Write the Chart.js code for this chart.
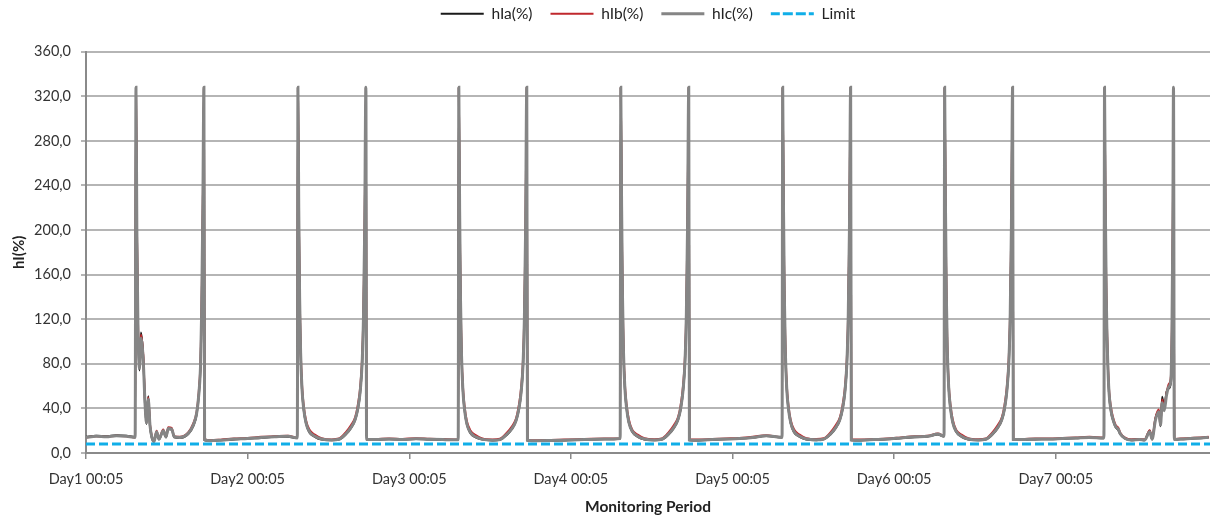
<!DOCTYPE html>
<html>
<head>
<meta charset="utf-8">
<script src="https://cdn.jsdelivr.net/npm/chart.js@4/dist/chart.umd.min.js"></script>
<style>
  html, body { margin: 0; padding: 0; background: #fff; }
  #wrap { width: 1210px; height: 518px; }
</style>
</head>
<body>
<div id="wrap"><canvas id="hChart" width="1210" height="518"></canvas></div>
<script>
// hours since Day1 00:05, one row per day
const hours = [
  0, 1.5, 3, 4.5, 6, 7.3, 7.42, 7.55, 7.7, 7.94, 8.16, 8.5, 8.76, 8.98, 9.25, 9.5, 9.75, 10.09, 10.49, 10.83, 11.47, 11.87, 12.22, 12.72, 13.11, 13.95, 15.18, 15.93, 16.43, 16.77, 17.02, 17.17, 17.35, 17.51, 17.61, 18.5, 20, 22, 24, 26, 28, 30,
  31.38, 31.47, 31.59, 31.72, 31.87, 32.07, 32.32, 32.67, 33.17, 33.97, 34.97, 36.47, 37.56, 38.56, 39.36, 39.96, 40.36, 40.71, 41.01, 41.21, 41.38, 41.56, 41.66, 43, 45, 47, 49, 51, 53,
  55.27, 55.36, 55.48, 55.61, 55.76, 55.96, 56.21, 56.56, 57.06, 57.86, 58.86, 60.36, 61.45, 62.45, 63.25, 63.85, 64.25, 64.6, 64.9, 65.1, 65.27, 65.45, 65.55, 67, 69, 71, 73, 75, 77,
  79.32, 79.41, 79.53, 79.66, 79.81, 80.01, 80.26, 80.61, 81.11, 81.91, 82.91, 84.41, 85.5, 86.5, 87.3, 87.9, 88.3, 88.65, 88.95, 89.15, 89.32, 89.5, 89.6, 91, 93, 95, 97, 99, 101,
  103.36, 103.45, 103.57, 103.7, 103.85, 104.05, 104.3, 104.65, 105.15, 105.95, 106.95, 108.45, 109.54, 110.54, 111.34, 111.94, 112.34, 112.69, 112.99, 113.19, 113.36, 113.54, 113.64, 115, 117, 119, 121, 123, 125, 126.5,
  127.41, 127.5, 127.62, 127.75, 127.9, 128.1, 128.35, 128.7, 129.2, 130.0, 131.0, 132.5, 133.59, 134.59, 135.39, 135.99, 136.39, 136.74, 137.04, 137.24, 137.41, 137.59, 137.69, 139, 141, 143, 145, 147, 149,
  151.15, 151.24, 151.36, 151.5, 151.7, 151.9, 152.2, 152.5, 152.9, 153.3, 153.55, 154.3, 155.2, 156.4, 157.2, 157.95, 158.3, 158.8, 159.3, 159.55, 159.8, 160.1, 160.45, 160.8, 161.1, 161.25, 161.38, 161.48, 161.6, 162.5, 164, 165.5, 166.7
];

const hIa = [
  14.5, 15.5, 15, 16, 15.5, 14.5, 328, 205, 118, 74, 108, 86, 44, 26, 51, 24, 14, 10.5, 18, 12, 19.5, 14, 21.5, 21, 14, 13.5, 17, 24, 34.5, 53, 80, 124, 218, 328, 11.5, 11, 11.5, 12, 13, 13.5, 14.5, 14.5,
  13.5, 328, 222, 138, 88, 57, 39, 26.5, 18.5, 14.5, 12, 11.5, 12, 16.5, 22.5, 29.5, 39, 54, 80, 122, 196, 328, 11.8, 11.8, 12.3, 12, 12.5, 12, 11.8,
  11.6, 328, 216, 136, 87, 56, 38.5, 25.5, 18, 14, 12, 11.3, 11.8, 16, 21.5, 28.5, 38, 53, 78, 120, 195, 328, 11.3, 10.8, 11, 11.3, 11.6, 12, 12.3,
  12.8, 328, 220, 140, 90, 58, 40, 27, 19, 14.5, 12.2, 11.5, 12, 16.5, 22.5, 29.5, 39, 55, 81, 124, 198, 328, 11.5, 11.3, 11.8, 12.3, 12.8, 13.8, 15.2,
  13.8, 328, 218, 138, 89, 57, 39.5, 26.5, 18.5, 14.5, 12.2, 11.5, 12.2, 16.5, 22.5, 29.5, 39, 54, 80, 123, 197, 328, 11.5, 11.3, 11.8, 12.3, 13.2, 14.2, 14.8, 16.5,
  14.8, 328, 220, 140, 89, 58, 40, 27, 19, 14.5, 12.2, 11.5, 12, 16.5, 22.5, 29.5, 39, 55, 81, 124, 199, 328, 12, 11.8, 12.2, 12.3, 12.8, 13.3, 13.8,
  13.3, 328, 218, 138, 84, 54, 37, 29.5, 23, 20.5, 17, 12.8, 11.5, 11.8, 11.5, 20, 12, 31, 38, 24, 50.5, 40, 55, 58, 64, 106, 195, 328, 11.8, 12.3, 12.8, 13.3, 13.8
];

const hIb = [
  14, 15, 14.5, 15.5, 15, 14, 328, 210, 125, 80, 106, 88, 47, 29, 50, 26, 16, 11, 20, 13, 21, 15, 23, 22.5, 15, 14.5, 18.5, 26.5, 37, 57, 85, 132, 226, 328, 12.5, 11.5, 12, 13, 13.5, 14.5, 15, 15.5,
  13.8, 328, 226, 146, 95, 62, 43, 29.5, 21, 16.5, 13.3, 12.2, 13, 18.5, 25, 32, 43, 59, 87, 132, 208, 328, 12.5, 12.5, 13, 12.5, 13.3, 12.8, 12.5,
  12, 328, 224, 144, 93, 61, 42, 28.5, 20.5, 16, 13, 12.2, 12.8, 18, 24, 31, 42, 58, 85, 130, 206, 328, 12, 11.5, 11.7, 12, 12.3, 12.7, 13,
  13.3, 328, 228, 148, 97, 63, 44, 30, 21, 16.5, 13.3, 12.3, 13, 18.5, 25, 32, 43, 60, 88, 133, 210, 328, 12.2, 12, 12.5, 13, 13.5, 14.5, 16,
  14.3, 328, 226, 146, 96, 62, 43, 29.5, 21, 16.5, 13.3, 12.5, 13.2, 18.5, 25, 32, 43, 59, 87, 132, 208, 328, 12.2, 12, 12.5, 13, 14, 15, 15.5, 17.5,
  15.3, 328, 228, 148, 96, 63, 44, 30, 21, 16.5, 13.3, 12.4, 13, 18.5, 25, 32, 43, 60, 88, 133, 210, 328, 12.7, 12.5, 13, 13, 13.5, 14, 14.5,
  13.8, 328, 226, 146, 90, 58, 41, 32, 25, 22.5, 18.5, 13.8, 12.3, 12.6, 12.3, 20.5, 13.2, 31.5, 39, 27, 48, 41, 54, 62, 69, 116, 208, 328, 12.6, 13, 13.5, 14, 14.5
];

const hIc = [
  14, 15, 14.5, 15.5, 15, 14, 328, 200, 120, 76, 103, 83, 45, 27, 48, 25, 15, 10, 19, 12.5, 20, 14.6, 22, 21.5, 14.6, 14, 17.6, 25, 35.6, 54, 81, 126, 220, 328, 12, 11, 11.5, 12.5, 13, 14, 14.5, 15,
  13.5, 328, 220, 140, 90, 58, 40, 27, 19, 15, 12.5, 11.7, 12.3, 17, 23, 30, 40, 55, 82, 125, 200, 328, 12, 12, 12.5, 12, 12.8, 12.3, 12,
  11.8, 328, 218, 138, 88, 57, 39, 26, 18.5, 14.5, 12.2, 11.5, 12, 16.5, 22, 29, 39, 54, 80, 122, 198, 328, 11.5, 11, 11.2, 11.5, 11.8, 12.2, 12.5,
  13, 328, 222, 142, 91, 59, 41, 27.5, 19.5, 15, 12.5, 11.7, 12.3, 17, 23, 30, 40, 56, 83, 126, 202, 328, 11.7, 11.5, 12, 12.5, 13, 14, 15.5,
  14, 328, 220, 140, 90, 58, 40, 27, 19, 15, 12.5, 11.8, 12.5, 17, 23, 30, 40, 55, 82, 125, 200, 328, 11.7, 11.5, 12, 12.5, 13.5, 14.5, 15, 17,
  15, 328, 222, 142, 91, 59, 41, 27.5, 19.5, 15, 12.5, 11.7, 12.3, 17, 23, 30, 40, 56, 83, 126, 202, 328, 12.2, 12, 12.5, 12.5, 13, 13.5, 14,
  13.5, 328, 220, 140, 85, 55, 38, 30, 23.5, 21, 17.5, 13, 11.7, 12, 11.7, 19, 12.5, 29.5, 37, 25, 45, 38, 52, 59.5, 66, 110, 200, 328, 12, 12.5, 13, 13.5, 14
];

const limitHours = [0, 166.9];
const limitValues = [8, 8];

const dayLabels = ['Day1 00:05', 'Day2 00:05', 'Day3 00:05', 'Day4 00:05', 'Day5 00:05', 'Day6 00:05', 'Day7 00:05'];

const pts = (xs, ys) => xs.map((x, i) => ({ x: x, y: ys[i] }));
const font = 'Lato, "DejaVu Sans", sans-serif';

new Chart(document.getElementById('hChart'), {
  type: 'line',
  data: {
    datasets: [
      { label: 'hIa(%)', data: pts(hours, hIa), borderColor: '#1a1a1a', backgroundColor: '#1a1a1a', borderWidth: 2, order: 3 },
      { label: 'hIb(%)', data: pts(hours, hIb), borderColor: '#c0282d', backgroundColor: '#c0282d', borderWidth: 2, order: 2 },
      { label: 'hIc(%)', data: pts(hours, hIc), borderColor: '#858585', backgroundColor: '#858585', borderWidth: 3, order: 1 },
      { label: 'Limit', data: pts(limitHours, limitValues), borderColor: '#10aee8', backgroundColor: '#10aee8', borderWidth: 3, borderDash: [9, 4], order: 0 }
    ]
  },
  options: {
    responsive: false,
    animation: false,
    devicePixelRatio: 1,
    layout: { padding: { top: -12, left: 0, right: 0, bottom: 0 } },
    elements: { point: { radius: 0 }, line: { cubicInterpolationMode: 'monotone' } },
    plugins: {
      tooltip: { enabled: false },
      legend: {
        position: 'top',
        fullSize: false,
        labels: {
          boxWidth: 43,
          boxHeight: 0,
          padding: 18,
          color: '#222',
          font: { family: font, size: 15.5 },
          sort: (a, b) => a.datasetIndex - b.datasetIndex
        }
      },
      // empty spacer between the legend and the plot
      subtitle: {
        display: true,
        text: '',
        weight: 500,
        font: { size: 1 },
        padding: { top: 0, bottom: 19 }
      }
    },
    scales: {
      x: {
        type: 'linear',
        min: 0,
        max: 166.9,
        afterFit: s => { s.height = 65; },
        afterBuildTicks: s => { s.ticks = dayLabels.map((_, i) => ({ value: i * 24 })); },
        ticks: {
          autoSkip: false,
          maxRotation: 0,
          padding: 12,
          color: '#333',
          font: { family: font, size: 14.5 },
          callback: (v, i) => dayLabels[i]
        },
        grid: { drawOnChartArea: false, drawTicks: true, tickLength: 6, color: '#8a8a8a', lineWidth: 1.5 },
        border: { color: '#8a8a8a', width: 2 },
        title: {
          display: true,
          text: 'Monitoring Period',
          color: '#222',
          font: { family: font, size: 15.5, weight: 'bold' },
          padding: { top: 0, bottom: 2 }
        }
      },
      y: {
        min: 0,
        max: 360,
        afterFit: s => { s.width = 86; },
        ticks: {
          stepSize: 40,
          padding: 10,
          color: '#333',
          font: { family: font, size: 14.5 },
          callback: v => v.toFixed(1).replace('.', ',')
        },
        grid: { color: '#b5b5b5', lineWidth: 2, tickLength: 5 },
        border: { color: '#8a8a8a', width: 2 },
        title: {
          display: true,
          text: 'hI(%)',
          color: '#222',
          font: { family: font, size: 15, weight: 'bold' },
          padding: { top: 10, bottom: 0 }
        }
      }
    }
  }
});
</script>
</body>
</html>
